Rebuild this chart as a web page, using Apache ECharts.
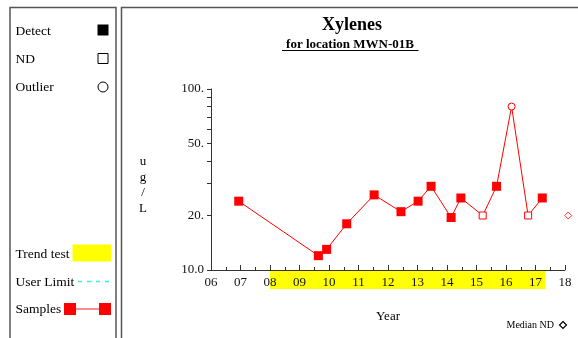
<!DOCTYPE html>
<html>
<head>
<meta charset="utf-8">
<script src="https://cdn.jsdelivr.net/npm/echarts@6/dist/echarts.min.js"></script>
<style>
  html, body { margin: 0; padding: 0; background: #fff; }
  #chart { width: 578px; height: 338px; }
</style>
</head>
<body>
<div id="chart"></div>
<script>
// Sample dates (decimal years) and concentrations in ug/L
const sampleYears = [2006.94, 2009.64, 2009.92, 2010.60, 2011.53, 2012.44, 2013.02, 2013.46,
                     2014.14, 2014.47, 2015.21, 2015.68, 2016.19, 2016.75, 2017.23];
const sampleValues = [24, 12, 13, 18, 26, 21, 24, 29, 19.5, 25, 20, 29, 80, 20, 25];
// D = detect, ND = non-detect, O = outlier
const sampleKinds = ['D', 'D', 'D', 'D', 'D', 'D', 'D', 'D', 'D', 'D', 'ND', 'D', 'O', 'ND', 'D'];

const medianNDPoint = [2018.11, 20];
const trendTestPeriod = [2008, 2017.34];

const xRange = [2006, 2018];
const yTickValues = [10, 20, 30, 40, 50, 60, 70, 80, 90, 100];
const yLabelValues = [10, 20, 50, 100];
const yLabelTexts = ['10.0', '20.', '50.', '100.'];

const FONT = '"Liberation Serif", "Times New Roman", serif';
const RED = '#ff0000';

const markerStyles = {
  D:  { symbol: 'rect',   symbolSize: 9, itemStyle: { color: RED, borderWidth: 0 } },
  ND: { symbol: 'rect',   symbolSize: 7, itemStyle: { color: '#fff', borderColor: RED, borderWidth: 1 } },
  O:  { symbol: 'circle', symbolSize: 7, itemStyle: { color: '#fff', borderColor: RED, borderWidth: 1 } }
};

const sampleData = sampleYears.map((yr, i) =>
  Object.assign({ value: [yr, sampleValues[i]] }, markerStyles[sampleKinds[i]]));

const chart = echarts.init(document.getElementById('chart'), null, { renderer: 'canvas' });

const legendText = (text, y) => ({
  type: 'text', x: 15.5, y: y,
  style: { text: text, font: '13.5px ' + FONT, fill: '#000', verticalAlign: 'middle' }
});

chart.setOption({
  animation: false,
  backgroundColor: '#fff',
  grid: [
    { left: 211, right: 13, top: 89, bottom: 68 },
    { left: 211, right: 13, top: 270, height: 19 }
  ],
  xAxis: [
    {
      gridIndex: 0, type: 'value', min: xRange[0], max: xRange[1], interval: 1, z: 10,
      name: 'Year', nameLocation: 'middle', nameGap: 40,
      nameTextStyle: { fontFamily: FONT, fontSize: 13, color: '#000' },
      axisLine: { lineStyle: { color: '#333', width: 1 } },
      axisTick: { inside: true, length: 5, lineStyle: { color: '#333' } },
      minorTick: { show: true, splitNumber: 2, length: 3, lineStyle: { color: '#333' } },
      splitLine: { show: false },
      axisLabel: {
        margin: 6, fontFamily: FONT, fontSize: 13, color: '#111',
        formatter: v => String(Math.round(v) % 100).padStart(2, '0')
      }
    },
    { gridIndex: 1, type: 'value', min: xRange[0], max: xRange[1], show: false }
  ],
  yAxis: [
    {
      gridIndex: 0, type: 'log', logBase: 10, min: 10, max: 100,
      axisLine: { show: true, lineStyle: { color: '#333', width: 1 } },
      axisTick: { show: true, length: 4, customValues: yTickValues, lineStyle: { color: '#333' } },
      splitLine: { show: false },
      axisLabel: {
        margin: 7, fontFamily: FONT, fontSize: 13, color: '#111',
        customValues: yLabelValues,
        formatter: v => {
          const i = yLabelValues.findIndex(t => Math.abs(t - v) < 1e-6);
          return i >= 0 ? yLabelTexts[i] : '';
        }
      }
    },
    { gridIndex: 1, type: 'value', min: 0, max: 1, show: false }
  ],
  series: [
    {
      name: 'Trend test', type: 'line', xAxisIndex: 1, yAxisIndex: 1, data: [], z: 1,
      markArea: {
        silent: true,
        itemStyle: { color: '#ffff00', opacity: 1 },
        data: [[{ xAxis: trendTestPeriod[0] }, { xAxis: trendTestPeriod[1] }]]
      }
    },
    {
      name: 'Samples', type: 'line', xAxisIndex: 0, yAxisIndex: 0,
      data: sampleData, showAllSymbol: true, clip: false,
      lineStyle: { color: RED, width: 1 },
      itemStyle: { color: RED },
      z: 5
    },
    {
      name: 'Median ND', type: 'scatter', xAxisIndex: 0, yAxisIndex: 0,
      data: [medianNDPoint], clip: false, symbol: 'diamond', symbolSize: 7,
      itemStyle: { color: '#fff', borderColor: RED, borderWidth: 1 },
      z: 5
    }
  ],
  graphic: [
    // panel frames
    { type: 'rect', shape: { x: 10, y: 7.5, width: 106, height: 340 },
      style: { fill: null, stroke: '#555', lineWidth: 1.5 }, silent: true },
    { type: 'rect', shape: { x: 121.5, y: 7.5, width: 470, height: 340 },
      style: { fill: null, stroke: '#555', lineWidth: 1.5 }, silent: true },

    // title
    { type: 'text', x: 352, y: 25,
      style: { text: 'Xylenes', font: 'bold 18px ' + FONT, fill: '#000', align: 'center', verticalAlign: 'middle' } },
    { type: 'text', x: 350, y: 44.5,
      style: { text: 'for location MWN-01B', font: 'bold 13px ' + FONT, fill: '#000', align: 'center', verticalAlign: 'middle' } },
    { type: 'line', shape: { x1: 282, y1: 50.5, x2: 418.5, y2: 50.5 }, style: { stroke: '#000', lineWidth: 1.2 } },

    // y-axis unit, stacked letters
    { type: 'text', x: 143, y: 185,
      style: { text: 'u\ng\n/\nL', font: '13px ' + FONT, fill: '#000', align: 'center',
               verticalAlign: 'middle', lineHeight: 15.5 } },

    // legend panel
    legendText('Detect', 31),
    { type: 'rect', shape: { x: 97.5, y: 24.5, width: 11, height: 11 }, style: { fill: '#000' } },
    legendText('ND', 59),
    { type: 'rect', shape: { x: 98, y: 53.5, width: 10, height: 10 }, style: { fill: '#fff', stroke: '#000', lineWidth: 1 } },
    legendText('Outlier', 87),
    { type: 'circle', shape: { cx: 103, cy: 87, r: 5 }, style: { fill: '#fff', stroke: '#000', lineWidth: 1 } },

    legendText('Trend test', 254),
    { type: 'rect', shape: { x: 72.5, y: 244.5, width: 38.5, height: 17 }, style: { fill: '#ffff00' } },
    legendText('User Limit', 282),
    { type: 'line', shape: { x1: 78, y1: 281.5, x2: 111, y2: 281.5 },
      style: { stroke: '#33eeee', lineWidth: 1.3, lineDash: [4, 5] } },
    legendText('Samples', 309),
    { type: 'line', shape: { x1: 70, y1: 309, x2: 105, y2: 309 }, style: { stroke: '#ff6666', lineWidth: 1.5 } },
    { type: 'rect', shape: { x: 64, y: 303, width: 12, height: 12 }, style: { fill: RED } },
    { type: 'rect', shape: { x: 99, y: 303, width: 12, height: 12 }, style: { fill: RED } },

    // median ND note
    { type: 'text', x: 554, y: 325,
      style: { text: 'Median ND', font: '10px ' + FONT, fill: '#000', align: 'right', verticalAlign: 'middle' } },
    { type: 'polygon', shape: { points: [[563, 321.5], [566.5, 325], [563, 328.5], [559.5, 325]] },
      style: { fill: '#fff', stroke: '#000', lineWidth: 1.2 } }
  ]
});
</script>
</body>
</html>
